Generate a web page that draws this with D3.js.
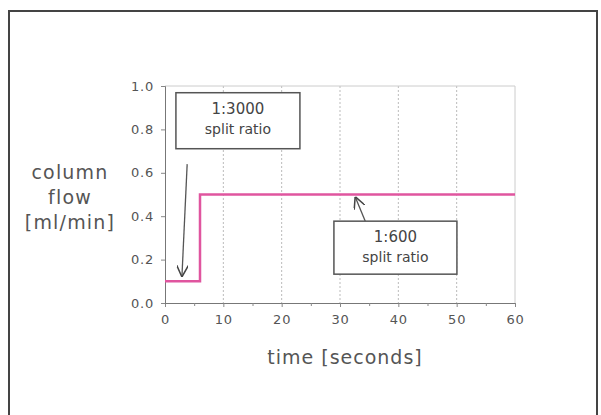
<!DOCTYPE html>
<html>
<head>
<meta charset="utf-8">
<script src="https://cdn.jsdelivr.net/npm/d3@7"></script>
<style>
  body { margin: 0; background: #fff; }
  svg, svg text { font-family: 'DejaVu Sans', Verdana, sans-serif; }
</style>
</head>
<body>
<svg width="601" height="415"></svg>
<script>
// step profile of column flow
const times = [0, 6, 6, 60];
const flows = [0.1, 0.1, 0.5, 0.5];
const xTicks = [0, 10, 20, 30, 40, 50, 60];
const yTicks = [0.0, 0.2, 0.4, 0.6, 0.8, 1.0];
// callouts: box centre in data units, arrow tail and tip in data units
const notes = [
  { lines: ['1:3000', 'split ratio'], cx: 12.5, cy: 0.84, w: 124, h: 56, from: [3.8, 0.64], to: [2.9, 0.12] },
  { lines: ['1:600', 'split ratio'], cx: 39.5, cy: 0.255, w: 123, h: 53, from: [35.2, 0.32], to: [32.6, 0.49] }
];

const font = "'DejaVu Sans', Verdana, sans-serif";
const svg = d3.select('svg');
const margin = { top: 86, left: 165, right: 86, bottom: 112 };
const width = 601 - margin.left - margin.right;
const height = 415 - margin.top - margin.bottom;

// frame round the figure (bottom edge falls outside)
svg.append('rect')
  .attr('x', 9).attr('y', 11)
  .attr('width', 588).attr('height', 420)
  .attr('fill', 'none').attr('stroke', '#444').attr('stroke-width', 2);

const g = svg.append('g').attr('transform', `translate(${margin.left}, ${margin.top})`);

const x = d3.scaleLinear().domain([0, 60]).range([0, width]);
const y = d3.scaleLinear().domain([0, 1]).range([height, 0]);

// grid
g.selectAll('.vgrid')
  .data(xTicks.slice(1, -1))
  .enter().append('line')
  .attr('x1', d => x(d)).attr('x2', d => x(d))
  .attr('y1', 0).attr('y2', height)
  .attr('stroke', '#bbb').attr('stroke-dasharray', '2,2');
g.append('line').attr('x1', 0).attr('x2', width).attr('y1', 0).attr('y2', 0).attr('stroke', '#ccc');
g.append('line').attr('x1', width).attr('x2', width).attr('y1', 0).attr('y2', height).attr('stroke', '#ccc');

// axes
g.append('g')
  .attr('transform', `translate(0, ${height})`)
  .call(d3.axisBottom(x).tickValues(xTicks).tickSize(4).tickPadding(8).tickFormat(d3.format('d')));
g.append('g')
  .attr('transform', `translate(0, ${height})`)
  .call(d3.axisBottom(x).tickValues(d3.range(5, 60, 10)).tickSize(3).tickFormat(''))
  .select('.domain').remove();
g.append('g')
  .call(d3.axisLeft(y).tickValues(yTicks).tickSize(4).tickPadding(7).tickFormat(d3.format('.1f')));

g.selectAll('.domain').attr('stroke', '#777');
g.selectAll('.tick line').attr('stroke', '#888');
g.selectAll('.tick text')
  .attr('fill', '#555')
  .attr('font-family', font)
  .attr('font-size', 13)
  .attr('letter-spacing', 0.8);

// the flow line
const line = d3.line().x((d, i) => x(times[i])).y(d => y(d));
g.append('path')
  .datum(flows)
  .attr('d', line)
  .attr('fill', 'none')
  .attr('stroke', '#e0559f')
  .attr('stroke-width', 2.5);

// labels
svg.append('text')
  .attr('x', margin.left + width / 2 + 5).attr('y', 364)
  .attr('text-anchor', 'middle').attr('fill', '#555')
  .attr('font-family', font).attr('font-size', 19).attr('letter-spacing', 1)
  .text('time [seconds]');

const yLab = ['column', 'flow', '[ml/min]'];
svg.selectAll('.ylab')
  .data(yLab)
  .enter().append('text')
  .attr('x', 70).attr('y', (d, i) => 179 + i * 25)
  .attr('text-anchor', 'middle').attr('fill', '#555')
  .attr('font-family', font).attr('font-size', 19).attr('letter-spacing', 1.2)
  .text(d => d);

// callouts
svg.append('defs').append('marker')
  .attr('id', 'head').attr('viewBox', '0 0 10 10')
  .attr('refX', 10).attr('refY', 5)
  .attr('markerWidth', 9).attr('markerHeight', 9)
  .attr('orient', 'auto')
  .append('path').attr('d', 'M0,0 L10,5 L0,10')
  .attr('fill', 'none').attr('stroke', '#444').attr('stroke-width', 1.3);

notes.forEach(n => {
  g.append('line')
    .attr('x1', x(n.from[0])).attr('y1', y(n.from[1]))
    .attr('x2', x(n.to[0])).attr('y2', y(n.to[1]))
    .attr('stroke', '#555').attr('stroke-width', 1.3)
    .attr('marker-end', 'url(#head)');
  const bx = x(n.cx) - n.w / 2;
  const by = y(n.cy) - n.h / 2;
  g.append('rect')
    .attr('x', bx).attr('y', by)
    .attr('width', n.w).attr('height', n.h)
    .attr('fill', '#fff').attr('stroke', '#555').attr('stroke-width', 1.5);
  g.selectAll(null)
    .data(n.lines)
    .enter().append('text')
    .attr('x', x(n.cx)).attr('y', (d, i) => by + 21 + i * 20)
    .attr('text-anchor', 'middle').attr('fill', '#444')
    .attr('font-family', (d, i) => i === 0 ? "'DejaVu Sans Mono', monospace" : font)
    .attr('font-size', (d, i) => i === 0 ? 15 : 14)
    .text(d => d);
});
</script>
</body>
</html>
